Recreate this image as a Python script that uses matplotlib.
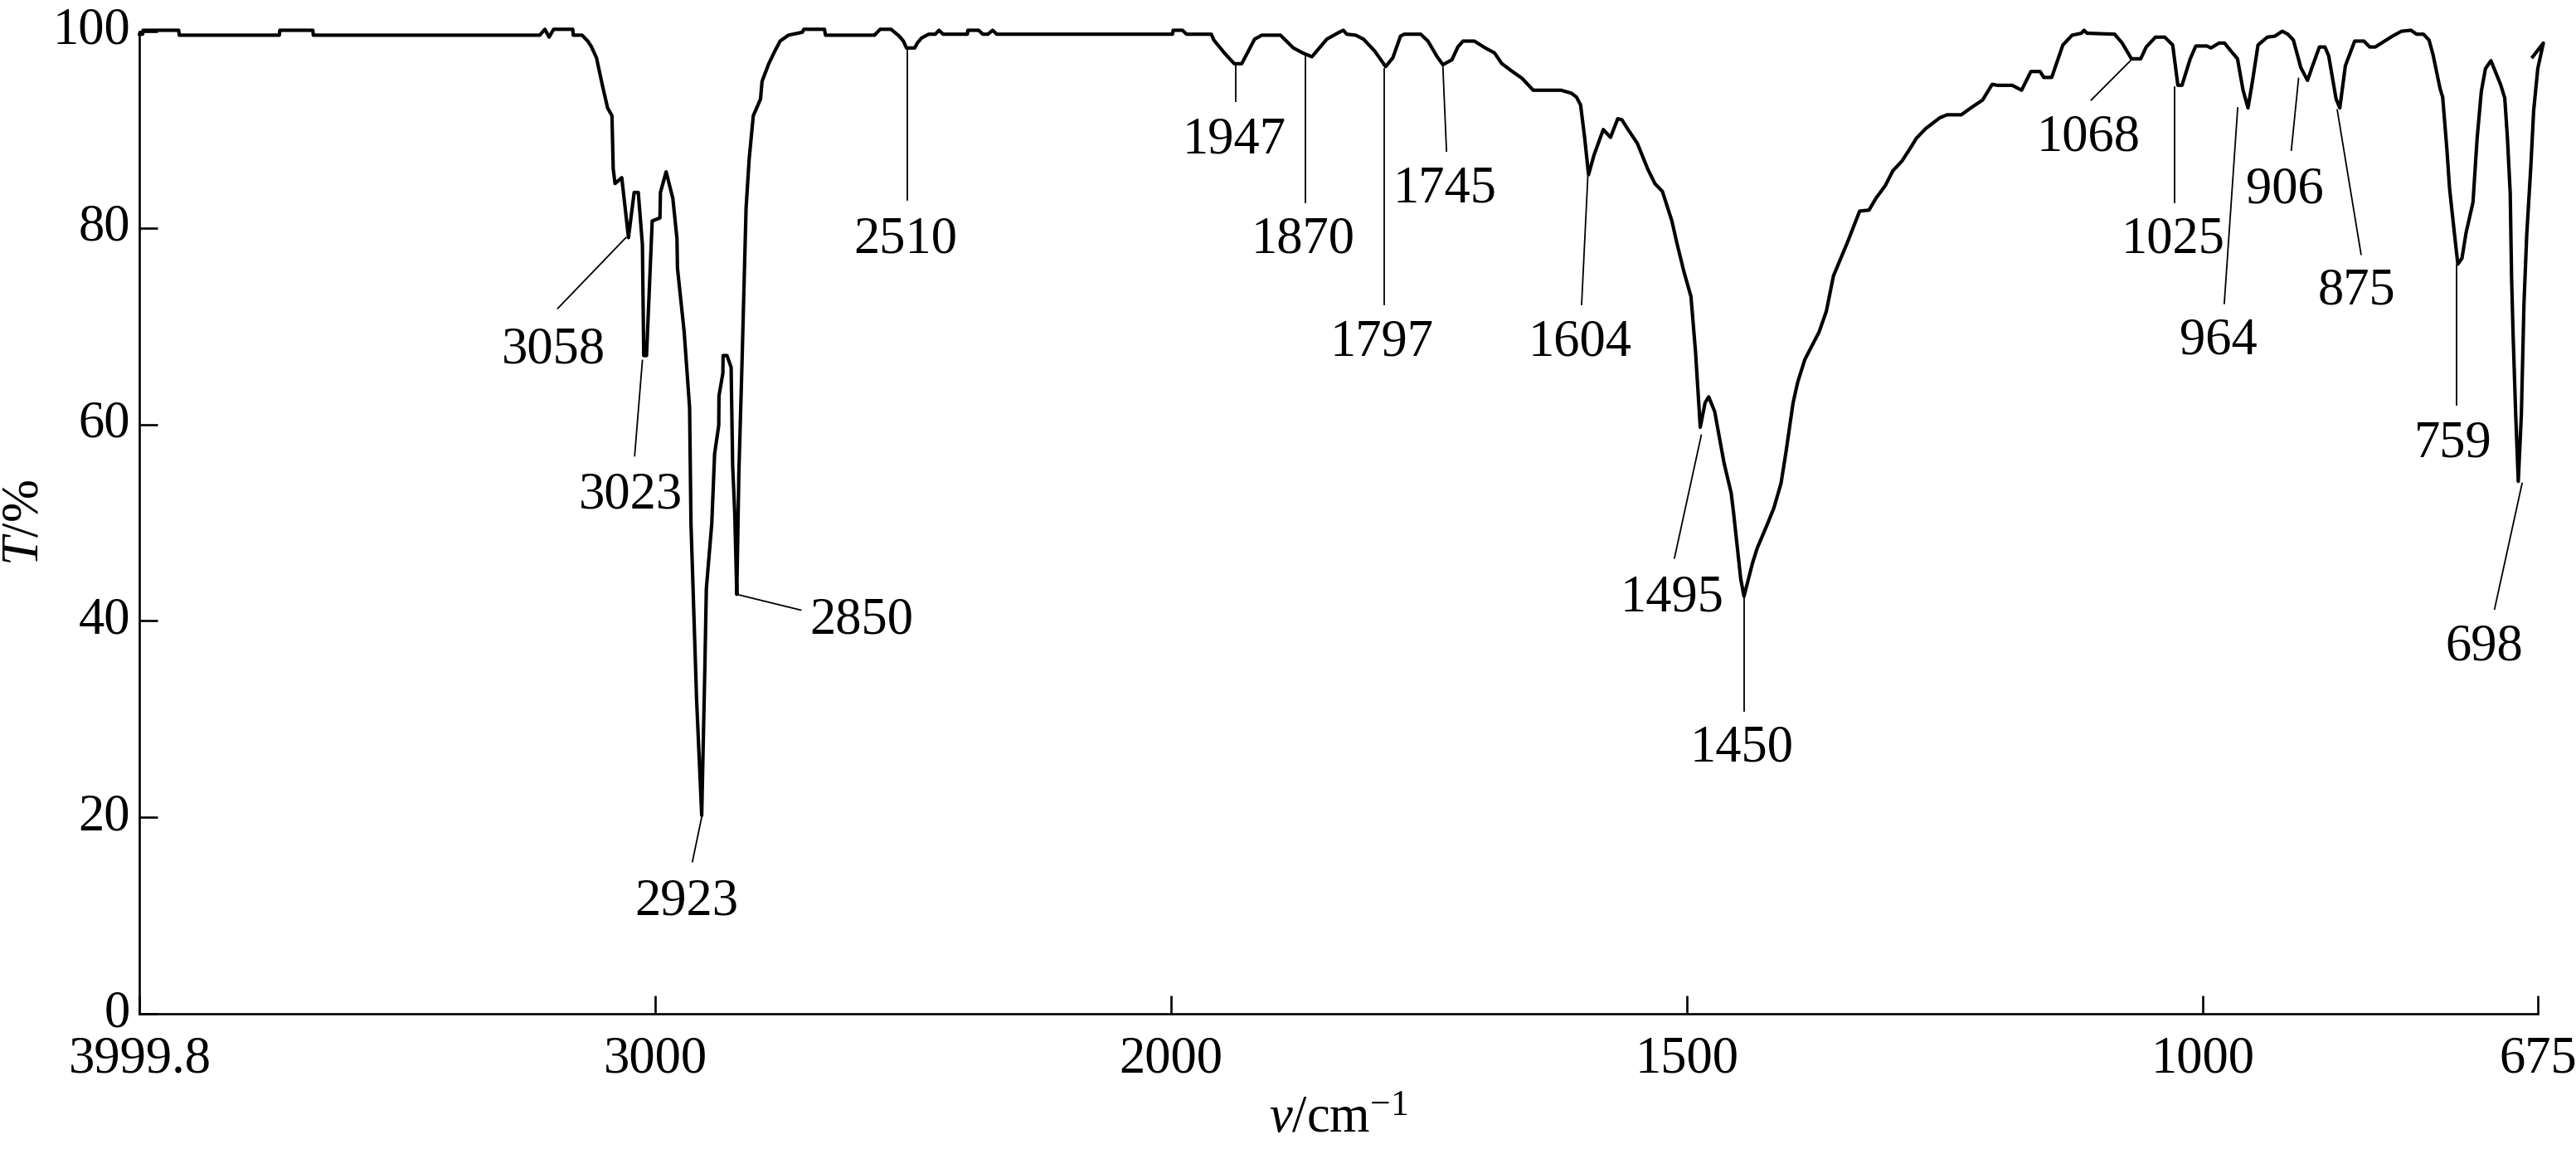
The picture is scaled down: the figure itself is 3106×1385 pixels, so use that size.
import numpy as np
import matplotlib
matplotlib.use("Agg")
from matplotlib import pyplot as plt
from matplotlib.ticker import NullLocator

# spectrum: wavenumber (cm-1) and transmittance (%)
# 4000 - 2338: C-H stretching region
wn_high = [3999.8, 3994, 3993, 3924, 3923, 3729, 3728, 3664, 3663, 3224,
           3214, 3206, 3197, 3160, 3159, 3142, 3131, 3124.6, 3114, 3103,
           3092.5, 3084, 3081.6, 3078, 3065, 3052, 3041, 3033, 3025, 3022.4,
           3017, 3006, 2991, 2990, 2979, 2966, 2958, 2957, 2944, 2933.5,
           2930.8, 2920, 2910, 2904, 2901, 2890.5, 2885, 2877, 2876.5, 2869,
           2868.5, 2861, 2853, 2850, 2846, 2842, 2838, 2832, 2828, 2824,
           2818, 2810, 2796, 2793, 2780, 2769, 2758, 2742, 2715, 2712,
           2672, 2670, 2575, 2564, 2543, 2527, 2519, 2513, 2497, 2492,
           2484, 2470, 2457, 2450, 2442, 2395, 2394, 2373, 2365, 2355,
           2346, 2338]
t_high = [99.7, 99.7, 100.1, 100.1, 99.6, 99.6, 100.1, 100.1, 99.6, 99.6,
          100.2, 99.4, 100.2, 100.2, 99.6, 99.6, 99.0, 98.5, 97.3, 94.6,
          92.2, 91.4, 86.0, 84.5, 85.1, 79.0, 83.6, 83.6, 78.3, 67.0,
          67.0, 80.7, 81.0, 83.6, 85.7, 83.0, 78.9, 75.9, 69.4, 61.7,
          49.9, 32.1, 20.2, 35.0, 43.3, 49.9, 57.0, 59.9, 62.9, 65.2,
          67.0, 67.0, 65.8, 55.8, 51.0, 42.7, 55.0, 66.0, 74.0, 82.0,
          87.0, 91.4, 93.1, 94.9, 96.7, 97.9, 99.0, 99.6, 99.9, 100.2,
          100.2, 99.6, 99.6, 100.2, 100.2, 99.5, 99.0, 98.3, 98.3, 98.8,
          99.3, 99.7, 99.7, 100.1, 99.7, 99.7, 100.1, 100.1, 99.7, 99.7,
          100.1, 99.7]

# 2000 - 1455: overtones, ring modes
wn_mid = [1998.6, 1998, 1989, 1985, 1961, 1958.5, 1947.6, 1938.7, 1931.5, 1926,
          1919, 1912, 1894, 1881.4, 1872.5, 1863.5, 1849, 1837, 1833, 1829.7,
          1821, 1813.5, 1802.7, 1792, 1785, 1777.6, 1774, 1758, 1751, 1742,
          1736.5, 1727.7, 1722, 1717, 1706, 1695.4, 1686.5, 1679.3, 1670.4, 1659.6,
          1649, 1622, 1612, 1607, 1603, 1599, 1595.3, 1590, 1581, 1574,
          1567, 1563, 1557, 1548, 1538, 1531, 1523.7, 1514.5, 1510, 1503,
          1496, 1491.6, 1487, 1482.3, 1478.8, 1473, 1464, 1457, 1454.7]
t_mid = [99.7, 100.1, 100.1, 99.7, 99.7, 99.1, 97.7, 96.7, 96.7, 97.8,
         99.2, 99.6, 99.6, 98.3, 97.8, 97.4, 99.2, 99.9, 100.1, 99.7,
         99.6, 99.2, 98.0, 96.4, 97.3, 99.5, 99.7, 99.7, 99.0, 97.4,
         96.6, 97.1, 98.4, 99.0, 99.0, 98.3, 97.8, 96.7, 96.0, 95.2,
         94.0, 94.0, 93.7, 93.3, 92.5, 89.1, 85.4, 87.4, 90.0, 89.2,
         91.1, 91.0, 90.0, 88.6, 86.0, 84.5, 83.7, 80.7, 78.6, 75.6,
         73.0, 67.4, 59.7, 62.2, 62.8, 61.3, 56.1, 53.0, 51.0]

# 1450 - 670: fingerprint region
wn_low = [1447.8, 1444.6, 1436.3, 1431.8, 1422.5, 1415.6, 1408.7, 1404, 1397, 1392.5,
          1385.6, 1371.8, 1364.8, 1357.9, 1344, 1332.5, 1323.4, 1316.7, 1307.6, 1300.3,
          1291.4, 1282.2, 1277.6, 1268.4, 1254.7, 1247.7, 1233.9, 1224.7, 1213.3, 1204,
          1199, 1184.6, 1175.5, 1166.5, 1157.5, 1154, 1146.3, 1135.5, 1126.5, 1117.5,
          1115, 1112, 1085.3, 1078, 1069, 1060, 1054.7, 1045.7, 1036.7, 1029,
          1024, 1020, 1012, 1006.6, 995.8, 992, 984, 978.8, 973.4, 966.2,
          960.8, 956, 951.7, 946.3, 937.3, 930, 922.8, 917.4, 912, 904.8,
          898.3, 894, 886.8, 881.4, 877.8, 870.6, 867, 861.6, 852.6, 843.6,
          838, 832.6, 823.6, 816, 807.3, 798, 792.6, 785.9, 780.5, 776.6,
          769.9, 767.3, 763.2, 760.6, 756.6, 752.6, 748.6, 744.6, 737.9, 733.9,
          729.8, 725.8, 720.5, 711.2, 707.1, 704.5, 701.8, 700.5, 699.1, 696.5,
          694, 691, 688.5, 685.8, 681.8, 679.1, 675.1, 669.7, 680]
t_low = [44.3, 42.5, 45.9, 47.4, 49.7, 51.5, 54.0, 57.1, 62.2, 64.3,
         66.6, 69.4, 71.5, 75.1, 78.6, 81.7, 81.8, 83.0, 84.3, 85.8,
         86.8, 88.3, 89.1, 90.1, 91.2, 91.5, 91.5, 92.2, 93.0, 94.6,
         94.5, 94.5, 94.0, 95.9, 95.9, 95.3, 95.3, 98.6, 99.6, 99.8,
         100.1, 99.8, 99.7, 98.8, 97.2, 97.2, 98.4, 99.4, 99.4, 98.6,
         94.5, 94.5, 97.2, 98.5, 98.5, 98.3, 98.8, 98.8, 98.1, 97.2,
         94.0, 92.2, 94.9, 98.6, 99.4, 99.5, 100.0, 99.7, 99.1, 96.3,
         95.0, 96.3, 98.4, 98.4, 97.5, 93.1, 92.2, 96.5, 99.0, 99.0,
         98.4, 98.4, 99.0, 99.5, 100.0, 100.1, 99.7, 99.7, 99.1, 97.6,
         94.2, 93.3, 88.0, 84.0, 80.1, 76.3, 76.9, 79.5, 82.6, 89.1,
         93.9, 96.2, 97.0, 94.6, 93.2, 89.1, 83.5, 75.0, 69.4, 61.0,
         54.2, 61.0, 72.2, 79.3, 86.3, 91.9, 96.2, 98.8, 97.4]

# peak labels, the point each leader starts from
peak_labels = ["3058", "3023", "2923", "2850", "2510", "1947", "1870", "1797",
               "1745", "1604", "1495", "1450", "1068", "1025", "964", "906",
               "875", "759", "698"]
peak_wn = [3057, 3025, 2909, 2842, 2512, 1937, 1870, 1793,
           1736.5, 1596, 1486, 1444.6, 1070, 1027, 966, 907,
           869.5, 753.5, 690.3]
peak_t = [79.0, 66.5, 20.3, 42.7, 98.2, 96.6, 97.6, 96.2,
          96.4, 85.2, 58.9, 42.3, 97.0, 94.3, 92.2, 95.2,
          92.0, 76.2, 54.0]
# where each leader ends and where its number sits
lead_wn = [3189, 3040, 2928, 2718, 2512, 1937, 1870, 1793,
           1733, 1602, 1512, 1444.6, 1108, 1027, 979, 914,
           846.4, 753.5, 717]
lead_t = [71.8, 56.8, 15.5, 41.1, 82.8, 92.9, 82.6, 72.2,
          87.8, 72.2, 46.4, 30.8, 93.0, 82.6, 72.3, 87.9,
          77.3, 62.0, 41.2]
text_wn = [3197, 3048, 2940, 2601, 2515, 1939, 1872, 1796,
           1735, 1604, 1514, 1446.5, 1111, 1029, 985, 920,
           851, 757.6, 727]
text_t = [68.1, 53.3, 12.0, 40.6, 79.3, 89.5, 79.3, 68.9,
          84.5, 68.9, 42.9, 27.6, 89.7, 79.3, 69.0, 84.4,
          74.1, 58.6, 37.9]

x_ticks = [3999.8, 3000, 2000, 1500, 1000, 675]
x_tick_labels = ["3999.8", "3000", "2000", "1500", "1000", "675"]
y_ticks = [0, 20, 40, 60, 80, 100]


# IR charts switch to double scale below 2000 cm-1
def fwd(v):
    v = np.asarray(v, dtype=float)
    return np.where(v >= 2000, v, 2 * v - 2000)


def inv(u):
    u = np.asarray(u, dtype=float)
    return np.where(u >= 2000, u, (u + 2000) / 2)


plt.rcParams["font.family"] = ["Liberation Serif", "DejaVu Serif"]
plt.rcParams["font.size"] = 45
plt.rcParams["mathtext.fontset"] = "custom"
plt.rcParams["mathtext.rm"] = "Liberation Serif"
plt.rcParams["mathtext.it"] = "Liberation Serif:italic"

wn = wn_high + wn_mid + wn_low
tr = t_high + t_mid + t_low

fig = plt.figure(figsize=(31.06, 13.85), dpi=100)
ax = fig.add_axes([0.0542, 0.1175, 0.9310, 0.8553])
ax.set_xscale("function", functions=(fwd, inv))

ax.plot(wn, tr, color="black", lw=3.0, clip_on=False)

for i in range(len(peak_labels)):
    ax.plot([peak_wn[i], lead_wn[i]], [peak_t[i], lead_t[i]],
            color="black", lw=1.3, clip_on=False)
    ax.text(text_wn[i], text_t[i], peak_labels[i],
            ha="center", va="center_baseline")

ax.set_xlim(3999.8, 675)
ax.set_ylim(0, 100)
ax.set_xticks(x_ticks)
ax.set_xticklabels(x_tick_labels)
ax.set_yticks(y_ticks)
ax.xaxis.set_minor_locator(NullLocator())
ax.yaxis.set_minor_locator(NullLocator())
# numbers on the T axis sit a little above their ticks
for lab in ax.get_yticklabels():
    lab.set_verticalalignment("center")

ax.spines["top"].set_visible(False)
ax.spines["right"].set_visible(False)
ax.spines["left"].set_linewidth(1.9)
ax.spines["bottom"].set_linewidth(1.9)
ax.tick_params(axis="both", direction="in", length=16, width=1.9)
ax.tick_params(axis="x", pad=19)
ax.tick_params(axis="y", pad=8)

ax.set_xlabel(r"$\nu$/cm$^{-1}$", va="baseline")
ax.xaxis.set_label_coords(0.5, -0.1205)
ax.set_ylabel(r"$T$/%", va="center")
ax.yaxis.set_label_coords(-0.0475, 0.5)

fig.savefig("out.png", dpi=100)
